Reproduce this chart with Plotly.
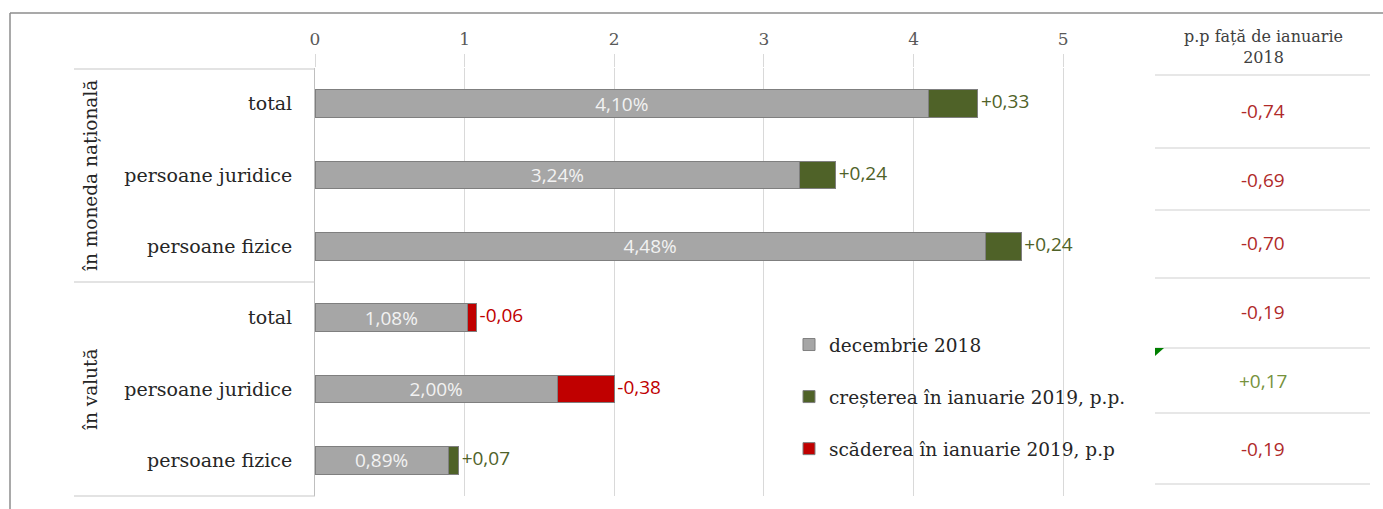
import plotly.graph_objects as go

# ---- data ----
categories = ["total", "persoane juridice", "persoane fizice",
              "total", "persoane juridice", "persoane fizice"]
groups = ["în moneda națională", "în valută"]
dec2018 = [4.10, 3.24, 4.48, 1.08, 2.00, 0.89]          # label values, %
change_jan2019 = [0.33, 0.24, 0.24, -0.06, -0.38, 0.07]  # p.p.
vs_jan2018 = [-0.74, -0.69, -0.70, -0.19, 0.17, -0.19]   # p.p
x_ticks = [0, 1, 2, 3, 4, 5]
legend_names = ["decembrie 2018", "creșterea în ianuarie 2019, p.p.", "scăderea în ianuarie 2019, p.p"]
table_header = "p.p față de ianuarie<br>2018"

def fmt(v, sign=False, pct=False):
    s = f"{abs(v):.2f}".replace(".", ",")
    if sign:
        s = ("+" if v >= 0 else "-") + s
    elif v < 0:
        s = "-" + s
    return s + ("%" if pct else "")

rows = list(range(len(categories)))
base = [d + min(c, 0) for d, c in zip(dec2018, change_jan2019)]
inc = [max(c, 0) for c in change_jan2019]
dec = [-min(c, 0) for c in change_jan2019]
ends = [b + i + d for b, i, d in zip(base, inc, dec)]

GRAY, GREEN, RED = "#a6a6a6", "#4f6228", "#c00000"
SANS = "Open Sans"
SERIF = "DejaVu Serif"

# pixel geometry helpers (plot area)
L, R, T, B = 315, 1138, 68, 496
W, H = 1383, 509
def px(x):
    return (x - L) / (R - L)
def py(y):
    return (B - y) / (B - T)

fig = go.Figure()
fig.add_trace(go.Bar(
    y=rows, x=base, orientation="h", name=legend_names[0],
    marker=dict(color=GRAY, line=dict(color="#7f7f7f", width=1)),
    text=[fmt(v, pct=True) for v in dec2018], textposition="inside",
    insidetextanchor="middle", textangle=0, constraintext="none",
    textfont=dict(family=SANS, size=19, color="#f2f2f2"),
    width=0.39, legendgroup="a", hoverinfo="skip"))
fig.add_trace(go.Bar(
    y=rows, x=inc, orientation="h", name=legend_names[1],
    marker=dict(color=GREEN, line=dict(color="#7f7f7f", width=1)),
    width=0.39, legendgroup="b", hoverinfo="skip"))
fig.add_trace(go.Bar(
    y=rows, x=dec, orientation="h", name=legend_names[2],
    marker=dict(color=RED, line=dict(color="#7f7f7f", width=1)),
    width=0.39, legendgroup="c", hoverinfo="skip"))
fig.add_trace(go.Scatter(
    y=rows, x=[e + 0.02 for e in ends], mode="text",
    text=[fmt(c, sign=True) for c in change_jan2019], textposition="middle right",
    textfont=dict(family=SANS, size=19,
                  color=[GREEN if c >= 0 else RED for c in change_jan2019]),
    showlegend=False, hoverinfo="skip", cliponaxis=False))

shapes = []
line_col = "#c8c8c8"
# outer border
shapes.append(dict(type="line", xref="paper", yref="paper", x0=px(10), x1=px(1383),
                   y0=py(13), y1=py(13), line=dict(color="#8c8c8c", width=1.5)))
shapes.append(dict(type="line", xref="paper", yref="paper", x0=px(10), x1=px(10),
                   y0=py(13), y1=py(509), line=dict(color="#8c8c8c", width=1.5)))
# left category table lines
for yy in [69, 282, 496]:
    shapes.append(dict(type="line", xref="paper", yref="paper", x0=px(74), x1=px(315),
                       y0=py(yy), y1=py(yy), line=dict(color=line_col, width=1.2)))
# right table lines
for yy in [75, 148, 210, 278, 348, 413, 484]:
    shapes.append(dict(type="line", xref="paper", yref="paper", x0=px(1155), x1=px(1370),
                       y0=py(yy), y1=py(yy), line=dict(color="#d0d0d0", width=1.2)))
# small error-indicator triangle
shapes.append(dict(type="path", xref="paper", yref="paper",
                   path=f"M {px(1155)} {py(348)} L {px(1164)} {py(348)} L {px(1155)} {py(356)} Z",
                   fillcolor="#008000", line=dict(width=0)))

annotations = []
for g, yc in zip(groups, [1, 4]):
    annotations.append(dict(text=g, xref="paper", yref="y", x=px(90), y=yc,
                            xanchor="center", yanchor="middle",
                            textangle=-90, showarrow=False,
                            font=dict(family=SERIF, size=18.5, color="#262626")))
annotations.append(dict(text=table_header, xref="paper", yref="paper", x=px(1263), y=py(47),
                        xanchor="center", yanchor="middle", showarrow=False,
                        font=dict(family=SERIF, size=16, color="#404040")))
val_y = [111, 180, 243, 312, 381, 449]
for v, yy in zip(vs_jan2018, val_y):
    annotations.append(dict(text=fmt(v, sign=True) if v > 0 else fmt(v), xref="paper", yref="paper",
                            x=px(1263), y=py(yy), xanchor="center", yanchor="middle",
                            showarrow=False,
                            font=dict(family=SANS, size=19,
                                      color="#76923c" if v > 0 else "#b02a2a")))

fig.update_layout(
    width=W, height=H, barmode="stack", bargap=0.6,
    margin=dict(l=L, r=W - R, t=T, b=H - B),
    paper_bgcolor="white", plot_bgcolor="white",
    xaxis=dict(range=[0, 5.5], side="top", tickvals=x_ticks,
               ticktext=[str(t) for t in x_ticks],
               showgrid=True, gridcolor="#d9d9d9", gridwidth=1, zeroline=False,
               ticks="outside", ticklen=13, tickcolor="#d9d9d9", ticklabelstandoff=2,
               tickfont=dict(family=SERIF, size=17, color="#595959")),
    yaxis=dict(range=[5.5, -0.5], tickvals=rows, ticktext=categories,
               showgrid=False, zeroline=False, showline=True, linecolor="#bfbfbf",
               ticks="outside", ticklen=18, tickcolor="rgba(0,0,0,0)",
               tickfont=dict(family=SERIF, size=19, color="#262626")),
    legend=dict(x=px(789), y=py(326), xanchor="left", yanchor="top",
                font=dict(family=SERIF, size=18.5, color="#262626"),
                tracegroupgap=25, itemwidth=30, bgcolor="rgba(0,0,0,0)"),
    shapes=shapes, annotations=annotations,
)
fig.write_html("out.html", config={"displayModeBar": False},
               post_script="document.body.style.margin='0';")
